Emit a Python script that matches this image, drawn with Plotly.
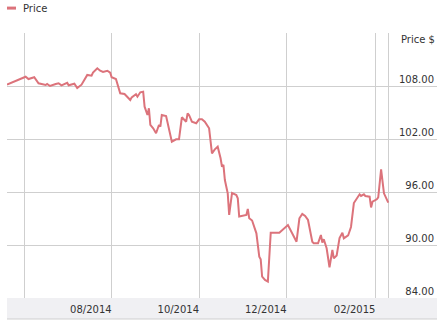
import plotly.graph_objects as go

dates = [
    "2014-05-20", "2014-06-02", "2014-06-04", "2014-06-08", "2014-06-11", "2014-06-16", "2014-06-17",
    "2014-06-19", "2014-06-23", "2014-06-25", "2014-06-27", "2014-07-01", "2014-07-02", "2014-07-06",
    "2014-07-08", "2014-07-11", "2014-07-15", "2014-07-18", "2014-07-19", "2014-07-22", "2014-07-24",
    "2014-07-26", "2014-07-29", "2014-07-31", "2014-08-01", "2014-08-04", "2014-08-07", "2014-08-10",
    "2014-08-14", "2014-08-15", "2014-08-18", "2014-08-19", "2014-08-21", "2014-08-23", "2014-08-24",
    "2014-08-26", "2014-08-27", "2014-08-28", "2014-08-30", "2014-09-01", "2014-09-03", "2014-09-04",
    "2014-09-05", "2014-09-08", "2014-09-12", "2014-09-15", "2014-09-17", "2014-09-18", "2014-09-19",
    "2014-09-22", "2014-09-23", "2014-09-24", "2014-09-26", "2014-09-29", "2014-10-01", "2014-10-03",
    "2014-10-05", "2014-10-08", "2014-10-09", "2014-10-10", "2014-10-12", "2014-10-14", "2014-10-16",
    "2014-10-17", "2014-10-18", "2014-10-19", "2014-10-21", "2014-10-22", "2014-10-24", "2014-10-27",
    "2014-10-28", "2014-10-29", "2014-11-03", "2014-11-04", "2014-11-05", "2014-11-07", "2014-11-10",
    "2014-11-12", "2014-11-13", "2014-11-14", "2014-11-16", "2014-11-18", "2014-11-20", "2014-11-24",
    "2014-11-26", "2014-12-02", "2014-12-06", "2014-12-08", "2014-12-10", "2014-12-12", "2014-12-14",
    "2014-12-16", "2014-12-19", "2014-12-20", "2014-12-23", "2014-12-25", "2014-12-26", "2014-12-27",
    "2014-12-29", "2014-12-31", "2015-01-02", "2015-01-03", "2015-01-05", "2015-01-07", "2015-01-09",
    "2015-01-10", "2015-01-13", "2015-01-15", "2015-01-17", "2015-01-19", "2015-01-21", "2015-01-22",
    "2015-01-24", "2015-01-25", "2015-01-28", "2015-01-29", "2015-01-30", "2015-02-02", "2015-02-03",
    "2015-02-05", "2015-02-07", "2015-02-10",
]

prices = [
    108.15, 109.05, 108.79, 108.99, 108.31, 108.11, 108.23,
    108.00, 108.23, 108.31, 108.08, 108.37, 108.08, 108.26,
    107.77, 108.15, 109.25, 109.17, 109.51, 110.00, 109.73,
    109.59, 109.73, 109.51, 108.99, 108.79, 107.17, 107.09,
    106.42, 106.72, 107.06, 106.79, 107.29, 107.36, 105.66,
    104.72, 105.48, 103.59, 103.21, 102.65, 103.59, 103.39,
    104.72, 104.60, 101.69, 101.97, 101.97, 103.59, 104.46,
    103.96, 104.91, 104.72, 103.96, 103.78, 104.23, 104.23,
    103.96, 103.21, 101.69, 100.38, 100.83, 101.13, 99.82,
    98.86, 99.06, 97.36, 95.85, 93.40, 95.89, 95.66,
    95.29, 93.23, 93.40, 94.08, 93.02, 92.77, 91.32,
    88.68, 88.38, 86.41, 86.04, 85.85, 91.39, 91.44,
    91.39, 92.26, 90.87, 90.37, 93.02, 93.51, 93.28,
    92.83, 90.37, 90.19, 90.19, 91.13, 90.28, 90.65,
    89.63, 87.48, 89.43, 88.49, 88.81, 90.79, 91.39,
    90.76, 91.08, 92.04, 94.75, 95.26, 95.74, 95.55,
    95.74, 95.55, 95.47, 94.25, 94.90, 95.17, 95.38,
    98.57, 95.85, 94.79,
]

x_tick_vals = ["2014-06-01", "2014-08-01", "2014-10-01", "2014-12-01", "2015-02-01", "2015-02-10"]
x_tick_text = ["", "08/2014", "10/2014", "12/2014", "02/2015", ""]
y_tick_vals = [84, 90, 96, 102, 108, 114]
y_tick_text = ["84.00", "90.00", "96.00", "102.00", "108.00", ""]

LINE = "#dc737b"
GRID = "#cfcfcf"
FONT = "DejaVu Sans"

fig = go.Figure()
fig.add_trace(go.Scatter(
    x=dates, y=prices, mode="lines", name="Price",
    line=dict(color=LINE, width=2), showlegend=False,
))

band_h = 21 / 265.0
fig.add_shape(type="rect", xref="paper", yref="paper", x0=0, x1=1, y0=-band_h, y1=0,
              fillcolor="#f0f0f3", line=dict(width=0), layer="below")
fig.add_shape(type="line", xref="paper", yref="paper", x0=0, x1=1, y0=-band_h, y1=-band_h,
              line=dict(color=GRID, width=1))
# legend swatch + label
fig.add_shape(type="line", xref="paper", yref="paper", x0=0.0, x1=0.021, y0=1.094, y1=1.094,
              line=dict(color=LINE, width=3))
fig.add_annotation(xref="paper", yref="paper", x=0.033, y=1.094, text="Price", showarrow=False,
                   xanchor="left", yanchor="middle", font=dict(size=10, color="#333333", family=FONT))
fig.add_annotation(xref="paper", yref="paper", x=1.0, y=1.0, yshift=-6, text="Price $", showarrow=False,
                   xanchor="right", yanchor="middle", font=dict(size=10, color="#333333", family=FONT))

fig.update_layout(
    width=446, height=330,
    margin=dict(l=7, r=9, t=33, b=32),
    paper_bgcolor="white", plot_bgcolor="white",
    font=dict(family=FONT, size=10, color="#333333"),
    xaxis=dict(
        type="date", range=["2014-05-20", "2015-03-16"],
        tickvals=x_tick_vals, ticktext=x_tick_text,
        ticklabelposition="outside left", ticklabelstandoff=4,
        showgrid=True, gridcolor=GRID, gridwidth=1,
        ticks="", zeroline=False, showline=False,
        tickfont=dict(size=10, color="#333333", family=FONT),
    ),
    yaxis=dict(
        range=[84, 114], side="right",
        tickvals=y_tick_vals, ticktext=y_tick_text,
        ticklabelposition="inside top",
        showgrid=True, gridcolor=GRID, gridwidth=1,
        ticks="", zeroline=False, showline=False,
        tickfont=dict(size=10, color="#333333", family=FONT),
    ),
    showlegend=False,
)

fig.write_html("out.html")
